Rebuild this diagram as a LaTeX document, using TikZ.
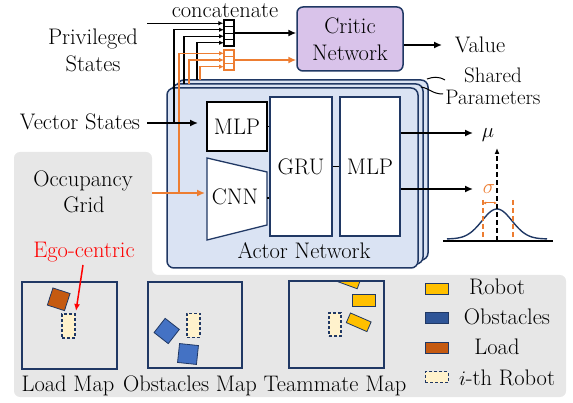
\documentclass[tikz,border=0pt]{standalone}
\usetikzlibrary{arrows.meta,calc}
\definecolor{navy}{HTML}{203864}
\definecolor{actorfill}{HTML}{DAE3F3}
\definecolor{criticfill}{HTML}{D9C3EA}
\definecolor{bggray}{HTML}{E7E7E7}
\definecolor{orng}{HTML}{ED7D31}
\definecolor{gold}{HTML}{FFC000}
\definecolor{obsblue}{HTML}{4472C4}
\definecolor{legblue}{HTML}{2F5597}
\definecolor{brown}{HTML}{C55A11}
\definecolor{egofill}{HTML}{FFF2CC}
\begin{document}
\begin{tikzpicture}[x=1pt,y=-1pt,
  font=\fontsize{22.5}{27}\selectfont,
  lbl/.style={inner sep=0pt, anchor=base},
  arr/.style={line width=1.5pt, -{Latex[length=8pt,width=7pt]}},
  sarr/.style={line width=1.1pt, -{Latex[length=5pt,width=4.5pt]}},
  actorbox/.style={draw=navy, fill=actorfill, line width=1.5pt, rounded corners=7pt, minimum width=251pt, minimum height=180pt, inner sep=0pt},
  inbox/.style={draw=navy, fill=white, line width=1.3pt, inner sep=0pt},
  mapbox/.style={draw=navy, line width=1.6pt, inner sep=0pt},
  ego/.style={draw=navy, fill=egofill, line width=1.1pt, dash pattern=on 3pt off 2pt, minimum width=13pt, minimum height=24pt, inner sep=0pt},
  sq/.style={draw=navy, line width=0.8pt, inner sep=0pt},
  swatch/.style={draw=navy, line width=0.9pt, minimum width=23pt, minimum height=11pt, inner sep=0pt},
]
\useasboundingbox (0,0) rectangle (573,403);

% gray panel
\fill[bggray, rounded corners=6pt] (14,152) -- (152,152) -- (152,275) -- (566,275) -- (566,397) -- (14,397) -- cycle;

% stacked actor networks
\node[actorbox] (a3) at (302.5,170) {};
\node[actorbox] (a2) at (297.5,174) {};
\node[actorbox] (a1) at (292.5,178) {};

% critic
\node[draw=navy, fill=criticfill, line width=1.5pt, rounded corners=6pt, minimum width=106pt, minimum height=64pt, align=center, inner sep=0pt] (critic) at (350,39) {Critic\\Network};

% concat boxes
\node[draw=black, fill=white, line width=1.3pt, minimum width=10pt, minimum height=26pt, inner sep=0pt] (cb) at (229,33) {};
\foreach \yy in {26.5,33,39.5} \draw[line width=0.9pt] (224,\yy) -- (234,\yy);
\node[draw=orng, fill=white, line width=1.3pt, minimum width=10pt, minimum height=20pt, inner sep=0pt] (co) at (229,60) {};
\foreach \yy in {56.7,63.3} \draw[orng, line width=0.9pt] (224,\yy) -- (234,\yy);
\node[lbl] (concat) at (225,17.5) {concatenate};

% left labels
\node[lbl] (priv1) at (93,45) {Privileged};
\node[lbl] (priv2) at (93,72) {States};
\node[lbl] (vec) at (80,130) {Vector States};

% inner blocks
\node[inbox, draw=black, minimum width=60pt, minimum height=49pt] (mlp1) at (237,126.5) {MLP};
\draw[navy, fill=white, line width=1.3pt] (207,158) -- (267,172) -- (267,225) -- (207,240) -- cycle;
\node (cnn) at (235,197) {CNN};
\node[inbox, minimum width=62pt, minimum height=139pt] (gru) at (301,166.5) {GRU};
\node[inbox, minimum width=60pt, minimum height=139pt] (mlp2) at (370,166.5) {MLP};
\node[lbl] (actorlbl) at (304,259) {Actor Network};
\coordinate (cnnE) at (267,198);
\draw[line width=1.5pt] (mlp1.east) -- (mlp1.east -| gru.west);
\draw[line width=1.5pt] (cnnE) -- (cnnE -| gru.west);
\draw[line width=1.5pt] (gru.east) -- (mlp2.west);

% inputs to concatenation
\coordinate (p1) at (147,23.25);
\draw[sarr] (p1) -- (p1 -| cb.west);
\coordinate (b2) at (174,123);
\coordinate (b3) at (184,84);
\coordinate (b4) at (197,80);
\draw[sarr] (b2) |- (224,29.75);
\draw[sarr] (b3) |- (224,36.25);
\draw[sarr] (b4) |- (224,42.75);
\coordinate (o1) at (179,193);
\coordinate (o2) at (189,84);
\coordinate (o3) at (200,80);
\draw[sarr, orng] (o1) |- (224,53.3);
\draw[sarr, orng] (o2) |- (224,60);
\draw[sarr, orng] (o3) |- (224,66.7);

% vector states arrow
\coordinate (vecS) at (147,123);
\coordinate (vecE) at (198,123);
\draw[arr] (vecS) -- (vecE);

% occupancy arrow
\coordinate (occS) at (152,193);
\coordinate (occE) at (205,193);
\draw[arr, orng] (occS) -- (occE);

% concat to critic
\draw[arr] (cb.east) -- (cb.east -| critic.west);
\draw[arr, orng] (co.east) -- (co.east -| critic.west);
\coordinate (valE) at (442,45);
\draw[arr] (critic.east |- valE) -- (valE);
\node[lbl] (value) at (480,53) {Value};

% shared parameters
\node[inner sep=0pt, anchor=north, align=center, font=\fontsize{21}{22}\selectfont] (shared) at (493,67.5) {Shared\\Parameters};
\draw[line width=1pt] (445,80) .. controls (438,76) and (433,77) .. (427,79);
\draw[line width=1pt] (443,94) .. controls (432,94) and (429,88) .. (421,87);

% outputs
\coordinate (muE) at (473,133);
\coordinate (sgE) at (473,189);
\draw[arr] (mlp2.east |- muE) -- (muE);
\draw[arr] (mlp2.east |- sgE) -- (sgE);
\node[lbl] (mu) at (488,138) {$\mu$};
\node[lbl, text=orng] (sigma) at (489,194) {$\sigma$};

% gaussian
\draw[line width=1.5pt] (443,241) -- (553,241);
\draw[navy, line width=1.4pt, domain=-50:50, samples=81, smooth] plot ({497+\x},{239-30*exp(-0.5*(\x/15)^2)});
\draw[orng, line width=1.4pt, dash pattern=on 5pt off 3pt] (483,200) -- (483,238);
\draw[orng, line width=1.4pt, dash pattern=on 5pt off 3pt] (513,200) -- (513,238);
\draw[line width=1.5pt, dash pattern=on 5pt off 3pt, -{Latex[length=6pt,width=5pt]}] (497,241) -- (497,148);
\draw[orng, line width=1pt, {Latex[length=3pt,width=3pt]}-{Latex[length=3pt,width=3pt]}] (483,203) -- (497,203);

% occupancy panel texts
\node[lbl] (occ1) at (83,187) {Occupancy};
\node[lbl] (occ2) at (84,213) {Grid};
\node[lbl, text=red] (egoLbl) at (84,258) {Ego-centric};

% maps
\node[mapbox, minimum width=95pt, minimum height=87pt] (loadmap) at (69.5,325.5) {};
\node[mapbox, minimum width=94pt, minimum height=86pt] (obsmap) at (195,325) {};
\begin{scope}
\clip (289,281) rectangle (384,368);
\node[sq, fill=gold, minimum width=24pt, minimum height=12pt, rotate=-20] (r1) at (348,279) {};
\end{scope}
\node[mapbox, minimum width=95pt, minimum height=87pt] (teammap) at (336.5,324.5) {};

\node[sq, fill=brown, minimum size=18pt, rotate=-18] (load1) at (58.7,299.3) {};
\node[ego] (ego1) at (68.5,326) {};
\node[sq, fill=obsblue, minimum size=18pt, rotate=-38] (obs1) at (166.7,331) {};
\node[sq, fill=obsblue, minimum size=19pt, rotate=-6] (obs2) at (188,354) {};
\node[ego] (ego2) at (193.5,325.5) {};
\node[sq, fill=gold, minimum width=23pt, minimum height=12pt] (r2) at (363.5,300) {};
\node[sq, fill=gold, minimum width=22.5pt, minimum height=10.5pt, rotate=-23.5] (r3) at (358.7,322.3) {};
\node[ego, minimum width=12pt, minimum height=23pt] (ego3) at (335,324.5) {};

\coordinate (egS) at (83,265);
\coordinate (egE) at (76,311);
\draw[red, line width=1.5pt, -{Latex[length=7pt,width=6pt]}] (egS) -- (egE);

\node[lbl] (lm) at (68,391) {Load Map};
\node[lbl] (om) at (190,391) {Obstacles Map};
\node[lbl] (tm) at (335,391) {Teammate Map};

% legend
\node[swatch, fill=gold] (s1) at (436.5,288.5) {};
\node[swatch, fill=legblue] (s2) at (436.5,318) {};
\node[swatch, fill=brown] (s3) at (436.5,347.5) {};
\node[swatch, fill=egofill, dash pattern=on 3pt off 2pt] (s4) at (436.5,377) {};
\node[lbl] (l1) at (497,295) {Robot};
\node[lbl] (l2) at (507,325) {Obstacles};
\node[lbl] (l3) at (497,355) {Load};
\node[lbl] (l4) at (507,385) {$i$-th Robot};
\end{tikzpicture}
\end{document}
